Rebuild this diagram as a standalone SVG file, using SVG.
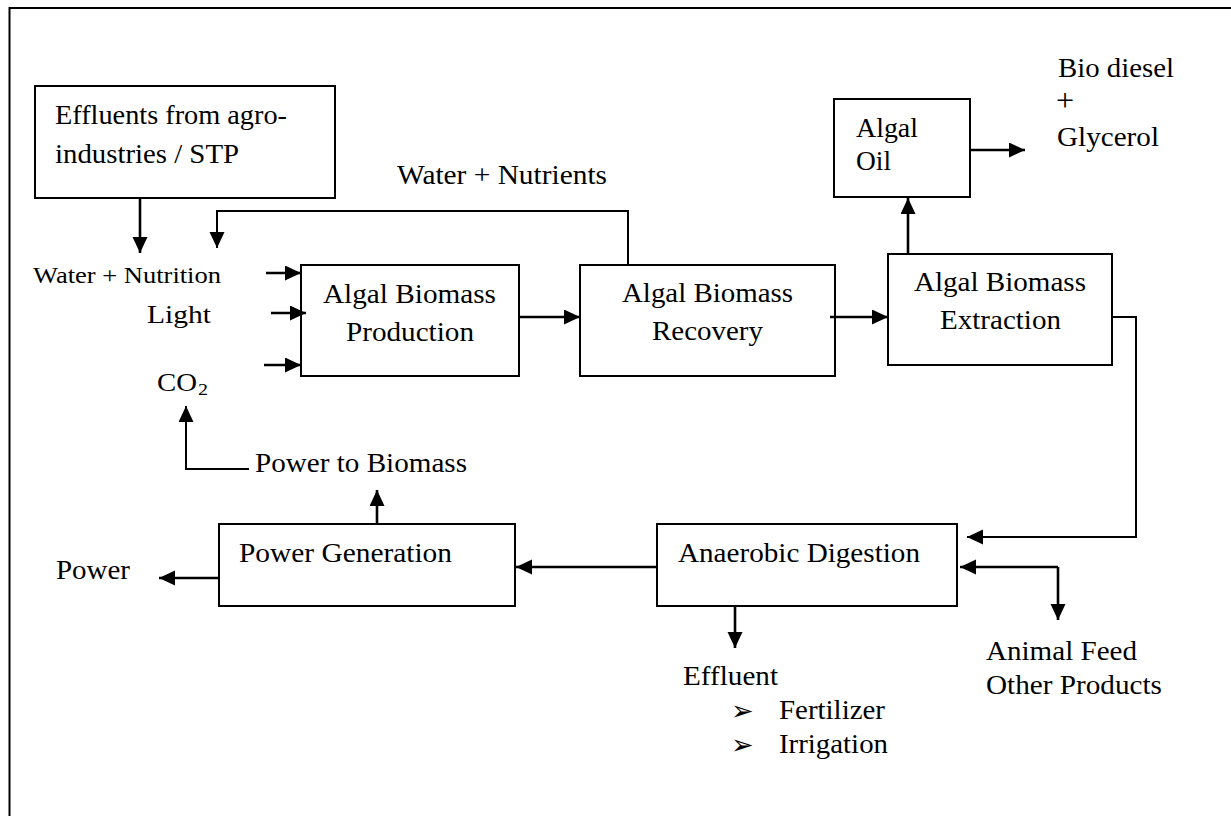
<svg xmlns="http://www.w3.org/2000/svg" width="1231" height="816" viewBox="0 0 1231 816">
<style>
  .box { fill: #ffffff; stroke: #000000; stroke-width: 2; }
  .frame { fill: none; stroke: #000000; stroke-width: 2; }
  .t { font-family: "Liberation Serif", "Times New Roman", serif; font-size: 28px; fill: #000000; }
  .s { font-size: 23px; }
  .m { font-size: 25px; }
  .sub { font-size: 16px; }
  .plus { font-size: 32px; }
  .bul { font-family: "DejaVu Sans", sans-serif; font-size: 27px; fill: #000000; }
  .arr { fill: none; stroke: #000000; stroke-width: 2.6; marker-end: url(#ah); }
  .lna { fill: none; stroke: #000000; stroke-width: 2; marker-end: url(#ah); }
</style>
<defs>
  <marker id="ah" markerUnits="userSpaceOnUse" markerWidth="18" markerHeight="16" refX="16" refY="7.5" orient="auto">
    <path d="M0,0 L16,7.5 L0,15 Z" fill="#000000"/>
  </marker>
</defs>
<rect x="0" y="0" width="1231" height="816" fill="#ffffff"/>
<rect class="frame" x="9.5" y="8" width="1240" height="840"/>

<g id="effluents">
  <rect class="box" x="35" y="86" width="300" height="112"/>
  <text class="t" x="55" y="124" textLength="232" lengthAdjust="spacingAndGlyphs">Effluents from agro-</text>
  <text class="t" x="55" y="163" textLength="184" lengthAdjust="spacingAndGlyphs">industries / STP</text>
</g>

<g id="production">
  <rect class="box" x="301" y="265" width="218" height="111"/>
  <text class="t" x="323" y="303" textLength="173" lengthAdjust="spacingAndGlyphs">Algal Biomass</text>
  <text class="t" x="346" y="341" textLength="128" lengthAdjust="spacingAndGlyphs">Production</text>
</g>

<g id="recovery">
  <rect class="box" x="580" y="265" width="255" height="111"/>
  <text class="t" x="622" y="302" textLength="171" lengthAdjust="spacingAndGlyphs">Algal Biomass</text>
  <text class="t" x="652" y="340" textLength="111" lengthAdjust="spacingAndGlyphs">Recovery</text>
</g>

<g id="extraction">
  <rect class="box" x="888" y="254" width="224" height="111"/>
  <text class="t" x="914" y="291" textLength="172" lengthAdjust="spacingAndGlyphs">Algal Biomass</text>
  <text class="t" x="940" y="329" textLength="121" lengthAdjust="spacingAndGlyphs">Extraction</text>
</g>

<g id="algal-oil">
  <rect class="box" x="834" y="99" width="136" height="98"/>
  <text class="t" x="856" y="137" textLength="62" lengthAdjust="spacingAndGlyphs">Algal</text>
  <text class="t" x="856" y="170" textLength="35" lengthAdjust="spacingAndGlyphs">Oil</text>
</g>

<g id="anaerobic">
  <rect class="box" x="657" y="524" width="300" height="82"/>
  <text class="t" x="678" y="562" textLength="242" lengthAdjust="spacingAndGlyphs">Anaerobic Digestion</text>
</g>

<g id="power-generation">
  <rect class="box" x="219" y="524" width="296" height="82"/>
  <text class="t" x="239" y="562" textLength="213" lengthAdjust="spacingAndGlyphs">Power Generation</text>
</g>

<g id="connectors">
  <path class="arr" d="M140,198 V253"/>
  <path class="lna" d="M628,265 V211 H217 V248"/>
  <path class="arr" d="M266,273 H301"/>
  <path class="arr" d="M271,313 H306"/>
  <path class="arr" d="M264,365 H301"/>
  <path class="arr" d="M519,317 H580"/>
  <path class="arr" d="M830,317 H888"/>
  <path class="arr" d="M908,254 V198"/>
  <path class="arr" d="M970,150 H1025"/>
  <path class="lna" d="M1112,317 H1136 V537 H967"/>
  <path class="arr" d="M1058,567 H960"/>
  <path class="arr" d="M1058,567 V620"/>
  <path class="arr" d="M735,606 V648"/>
  <path class="arr" d="M657,567 H516"/>
  <path class="arr" d="M219,578 H159"/>
  <path class="arr" d="M377,524 V490"/>
  <path class="lna" d="M249,469 H186 V406"/>
</g>

<g id="labels">
  <text class="t" x="397" y="184" textLength="210" lengthAdjust="spacingAndGlyphs">Water + Nutrients</text>
  <text class="t s" x="33" y="283" textLength="188" lengthAdjust="spacingAndGlyphs">Water + Nutrition</text>
  <text class="t m" x="147" y="323" textLength="64" lengthAdjust="spacingAndGlyphs">Light</text>
  <text class="t m" x="157" y="391" textLength="40" lengthAdjust="spacingAndGlyphs">CO</text>
  <text class="t sub" x="198" y="395" textLength="10" lengthAdjust="spacingAndGlyphs">2</text>
  <text class="t" x="1058" y="77" textLength="116" lengthAdjust="spacingAndGlyphs">Bio diesel</text>
  <text class="t plus" x="1056" y="111">+</text>
  <text class="t" x="1057" y="146" textLength="102" lengthAdjust="spacingAndGlyphs">Glycerol</text>
  <text class="t" x="255" y="472" textLength="212" lengthAdjust="spacingAndGlyphs">Power to Biomass</text>
  <text class="t" x="56" y="579" textLength="74" lengthAdjust="spacingAndGlyphs">Power</text>
  <text class="t" x="683" y="685" textLength="95" lengthAdjust="spacingAndGlyphs">Effluent</text>
  <text class="bul" x="731" y="720">➢</text>
  <text class="t" x="779" y="719" textLength="106" lengthAdjust="spacingAndGlyphs">Fertilizer</text>
  <text class="bul" x="731" y="754">➢</text>
  <text class="t" x="779" y="753" textLength="109" lengthAdjust="spacingAndGlyphs">Irrigation</text>
  <text class="t" x="986" y="660" textLength="151" lengthAdjust="spacingAndGlyphs">Animal Feed</text>
  <text class="t" x="986" y="694" textLength="176" lengthAdjust="spacingAndGlyphs">Other Products</text>
</g>
</svg>
